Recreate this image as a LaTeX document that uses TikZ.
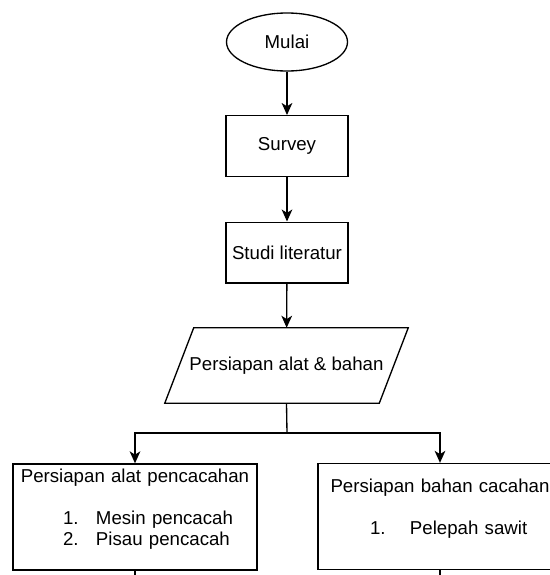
\documentclass[tikz,border=0pt]{standalone}
\usepackage{fontspec}
\setmainfont{Liberation Sans}
\usetikzlibrary{
	shapes.geometric,
	arrows.meta
}
\tikzset{
	flow line/.style={
		line width=1pt,
		black
	},
	flow arrow/.style={
		flow line,
		-{Stealth[length=9pt,width=8pt,inset=2.5pt]}
	},
	startstop/.style={
		draw, line width=1pt, ellipse,
		minimum width=90.75pt, minimum height=43.5pt,
		inner sep=0pt
	},
	process/.style={
		draw, line width=1pt, rectangle,
		minimum width=91.5pt, minimum height=45.5pt,
		inner sep=0pt
	},
	iodata/.style={
		rectangle,
		minimum width=182.25pt, minimum height=56.25pt,
		inner sep=0pt
	},
	listbox/.style={
		draw, line width=1pt, rectangle,
		minimum width=183pt, minimum height=79.5pt,
		text width=183pt, inner sep=0pt, align=left
	}
}

\begin{document}
\begin{tikzpicture}[x=0.75pt, y=-0.75pt, font=\fontsize{14pt}{15.75pt}\selectfont] %%%%% px from top left
	\useasboundingbox (0,0) rectangle (550,575);
	\clip (0,0) rectangle (550,575);

	\node[startstop] (mulai) at (287,42) {Mulai};
	\node[process] (survey) at (287,146) {Survey};
	\node[process] (studi) at (287,252.5) {Studi literatur};
	\node[iodata] (persiapan) at (286.5,365.5) {Persiapan alat \& bahan};
	% jajaran genjang
	\draw[flow line] ([xshift=21.75pt]persiapan.north west) -- (persiapan.north east)
		-- ([xshift=-21.75pt]persiapan.south east) -- (persiapan.south west) -- cycle;

	\node[listbox] (alat) at (135,517) {%
		\makebox[183pt]{Persiapan alat pencacahan}\\[15.75pt]
		\hspace*{37.5pt}\makebox[24.75pt][l]{1.}Mesin pencacah\\
		\hspace*{37.5pt}\makebox[24.75pt][l]{2.}Pisau pencacah\rule[-14pt]{0pt}{14pt}};
	\node[listbox] (bahan) at (440,516.5) {%
		\makebox[183pt]{Persiapan bahan cacahan}\\[15.75pt]
		\hspace*{39pt}\makebox[30pt][l]{1.}Pelepah sawit\rule[-14pt]{0pt}{14pt}};

	\coordinate (cabang) at (287,433);
	\coordinate (alat-out) at (135,590);
	\coordinate (bahan-out) at (440,590);

	\draw[flow arrow] (mulai) -- (survey);
	\draw[flow arrow] (survey) -- (studi);
	\draw[flow arrow] (studi) -- (persiapan);
	\draw[flow line] (persiapan.south) -- (cabang);
	\draw[flow arrow] (cabang) -| (alat.north);
	\draw[flow arrow] (cabang) -| (bahan.north);
	% lanjut ke halaman berikut
	\draw[flow line] (alat.south) -- (alat-out);
	\draw[flow line] (bahan.south) -- (bahan-out);
\end{tikzpicture}
\end{document}
